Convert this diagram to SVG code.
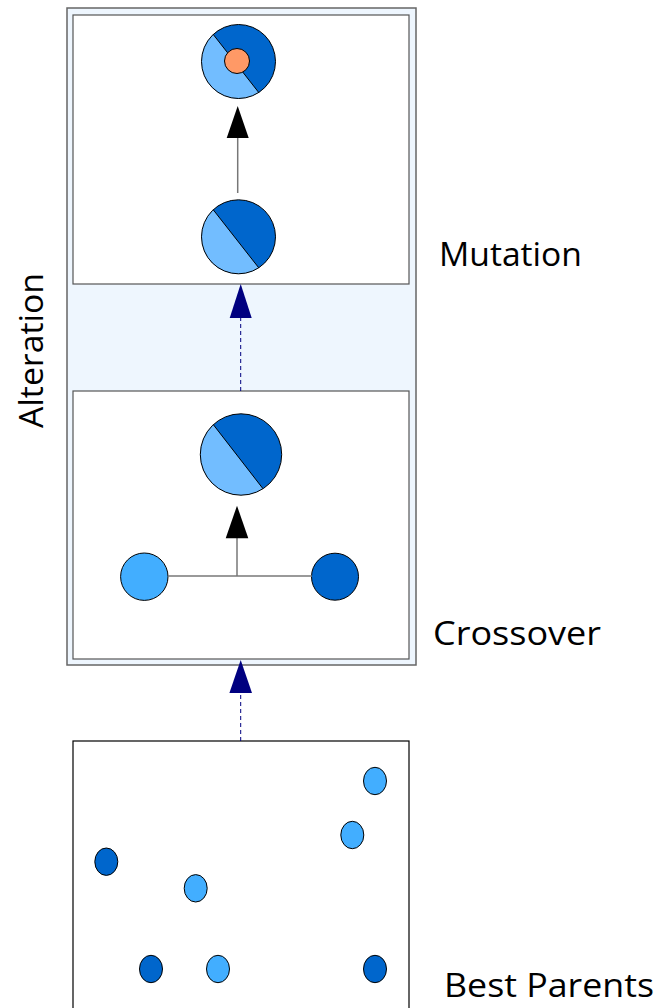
<svg xmlns="http://www.w3.org/2000/svg" width="659" height="1008" viewBox="0 0 659 1008">
<style>
.lbl{font-family:"Open Sans","DejaVu Sans",sans-serif;font-size:32px;fill:#000}
.box{fill:#fff;stroke:#555;stroke-width:1.2}
.dk{fill:#0066CC}
.lt{fill:#72BDFF}
.sky{fill:#42AEFF}
.ol{fill:none;stroke:#000;stroke-width:1}
.chord{stroke:#000;stroke-width:1}
.conn{stroke:#777;stroke-width:1.5;fill:none}
.dash{stroke:#000080;stroke-width:1;stroke-dasharray:4 3;fill:none}
.hb{fill:#000}
.hn{fill:#000080}
.dot{stroke:#000;stroke-width:1}
</style>
<rect width="659" height="1008" fill="#fff"/>
<g id="alteration">
<rect x="67" y="8" width="349" height="657" fill="#EEF6FE" stroke="#666" stroke-width="1.5"/>
<text class="lbl" transform="translate(43 350.5) rotate(-90)" text-anchor="middle" textLength="155" lengthAdjust="spacingAndGlyphs">Alteration</text>
</g>
<g id="mutation">
<rect class="box" x="73" y="15" width="336" height="269"/>
<g id="mut-top">
<circle class="dk" cx="238.5" cy="61.5" r="37"/>
<path class="lt" d="M213.24 34.46 A37 37 0 0 0 258.72 92.48 Z"/>
<line class="chord" x1="213.24" y1="34.46" x2="258.72" y2="92.48"/>
<circle class="ol" cx="238.5" cy="61.5" r="37"/>
<circle cx="237" cy="61" r="12.5" fill="#FF9966" stroke="#000" stroke-width="1"/>
</g>
<g id="mut-bottom">
<circle class="dk" cx="238.5" cy="236.8" r="37"/>
<path class="lt" d="M213.24 209.76 A37 37 0 0 0 258.72 267.78 Z"/>
<line class="chord" x1="213.24" y1="209.76" x2="258.72" y2="267.78"/>
<circle class="ol" cx="238.5" cy="236.8" r="37"/>
</g>
<text class="lbl" x="439" y="266" textLength="143" lengthAdjust="spacingAndGlyphs">Mutation</text>
</g>
<g id="crossover">
<rect class="box" x="73" y="391" width="336" height="268"/>
<g id="child">
<circle class="dk" cx="241" cy="454.5" r="40.7"/>
<path class="lt" d="M213.35 424.66 A40.7 40.7 0 0 0 263.01 488.72 Z"/>
<line class="chord" x1="213.35" y1="424.66" x2="263.01" y2="488.72"/>
<circle class="ol" cx="241" cy="454.5" r="40.7"/>
</g>
<circle id="parent-a" class="sky dot" cx="144.3" cy="576.7" r="23.7"/>
<circle id="parent-b" class="dk dot" cx="335" cy="576.7" r="23.5"/>
<text class="lbl" x="433" y="645" textLength="168" lengthAdjust="spacingAndGlyphs">Crossover</text>
</g>
<g id="best-parents">
<rect x="73" y="741" width="336" height="290" fill="#fff" stroke="#000" stroke-width="1.2"/>
<ellipse class="sky dot" cx="375" cy="781" rx="11.5" ry="13.7"/>
<ellipse class="sky dot" cx="352.3" cy="835" rx="11.5" ry="13.7"/>
<ellipse class="dk dot" cx="106.3" cy="861.7" rx="11.5" ry="13.7"/>
<ellipse class="sky dot" cx="195.7" cy="888.3" rx="11.5" ry="13.7"/>
<ellipse class="dk dot" cx="151" cy="969" rx="11.5" ry="13.7"/>
<ellipse class="sky dot" cx="218" cy="969" rx="11.5" ry="13.7"/>
<ellipse class="dk dot" cx="375" cy="969" rx="11.5" ry="13.7"/>
<text class="lbl" x="444" y="997" textLength="210" lengthAdjust="spacingAndGlyphs">Best Parents</text>
</g>
<g id="connectors">
<line class="conn" x1="237.7" y1="193" x2="237.7" y2="136"/>
<polygon class="hb" points="237.7,106 226.7,138 248.7,138"/>
<line class="conn" x1="168" y1="576" x2="312" y2="576"/>
<line class="conn" x1="237" y1="576" x2="237" y2="536"/>
<polygon class="hb" points="237,505.7 225.7,538.3 248.3,538.3"/>
<line class="dash" x1="240.7" y1="391" x2="240.7" y2="316"/>
<polygon class="hn" points="240.7,284 229.7,318 251.7,318"/>
<line class="dash" x1="240.7" y1="741" x2="240.7" y2="691"/>
<polygon class="hn" points="240.7,660 229.4,693 252,693"/>
</g>
</svg>
